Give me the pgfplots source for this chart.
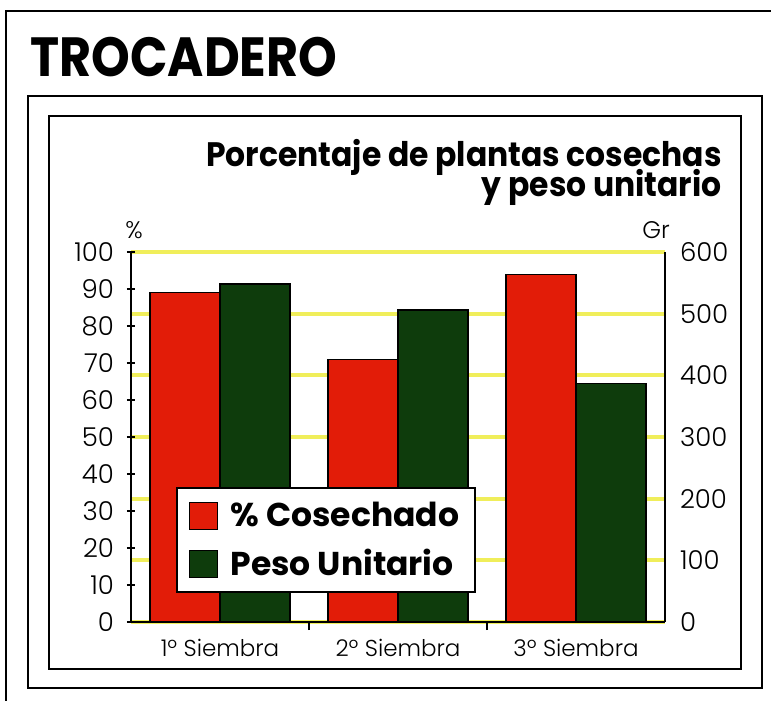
\documentclass[border=0pt]{standalone}
\usepackage{fontspec}
\setmainfont{Poppins}
\newfontfamily\plight{Poppins Light}
\usepackage{pgfplots}
\pgfplotsset{compat=1.18}
\definecolor{cRed}{RGB}{226,28,8}
\definecolor{cGreen}{RGB}{14,60,12}
\definecolor{cYel}{RGB}{240,238,90}
\begin{document}
\begin{tikzpicture}
\useasboundingbox (0,0) rectangle (385.5pt,-350.5pt);
\fill[white] (0,0) rectangle (385.5pt,-350.5pt);
% frames
\draw[line width=1.4pt] (3pt,-350.5pt) -- (3pt,-5.5pt) -- (385.5pt,-5.5pt);
\draw[line width=1.4pt] (14pt,-48pt) rectangle (381pt,-344pt);
\draw[line width=1.4pt] (24.5pt,-58pt) rectangle (370.5pt,-334.5pt);
% titles
\node[anchor=base west, inner sep=0pt, font=\bfseries\fontsize{23}{23}\selectfont] at (15pt,-38.5pt) {\scalebox{1.07}[1.2]{TROCADERO}};
\node[anchor=base east, inner sep=0pt, font=\bfseries\fontsize{15.7}{15.7}\selectfont] at (361pt,-83pt) {\scalebox{1}[1.08]{Porcentaje de plantas cosechas}};
\node[anchor=base east, inner sep=0pt, font=\bfseries\fontsize{15.7}{15.7}\selectfont] at (361pt,-98.5pt) {\scalebox{1}[1.08]{y peso unitario}};
\node[anchor=base, inner sep=0pt, font=\plight\fontsize{12}{12}\selectfont] at (67pt,-119pt) {\%};
\node[anchor=base, inner sep=0pt, font=\plight\fontsize{12}{12}\selectfont] at (328pt,-119pt) {Gr};
% right axis (Gr) with grid and green bars
\begin{axis}[
  at={(65.5pt,-311pt)}, anchor=south west,
  width=267pt, height=185pt, scale only axis,
  xmin=-0.5, xmax=2.5, ymin=0, ymax=600,
  axis x line=none, axis y line*=right,
  axis line style={line width=1pt},
  ytick={0,100,...,600}, major tick length=0pt,
  ymajorgrids, grid style={cYel, line width=2pt},
  /pgf/number format/assume math mode=true,
  tick label style={font=\plight\fontsize{13}{13}\selectfont},
  yticklabel style={xshift=4pt},
  ybar, bar width=35pt, bar shift=17.5pt,
]
\addplot[fill=cGreen, draw=black, line width=0.6pt] coordinates {(0,548) (1,506) (2,387)};
\end{axis}
% left axis (%) with red bars
\begin{axis}[
  at={(65.5pt,-311pt)}, anchor=south west,
  width=267pt, height=185pt, scale only axis,
  xmin=-0.5, xmax=2.5, ymin=0, ymax=100,
  axis x line*=bottom, axis y line*=left,
  axis line style={line width=1pt},
  ytick={0,10,...,100},
  xtick={0.5,1.5}, xticklabels={},
  extra x ticks={0,1,2},
  extra x tick labels={1º Siembra,2º Siembra,3º Siembra},
  extra x tick style={major tick length=0pt},
  tick align=center, major tick length=4pt,
  tick style={line width=1pt, black},
  /pgf/number format/assume math mode=true,
  tick label style={font=\plight\fontsize{13}{13}\selectfont},
  yticklabel style={xshift=-3pt},
  xticklabel style={yshift=-5pt, font=\plight\fontsize{11.5}{11.5}\selectfont},
  ybar, bar width=35pt, bar shift=-17.5pt,
  legend style={at={(0.084,0.366)}, anchor=north west, draw=black, line width=1pt,
    fill=white, font=\bfseries\fontsize{16.5}{19}\selectfont, inner xsep=6pt, inner ysep=5pt,
    row sep=6pt},
  legend cell align=left,
  legend image code/.code={\draw[#1, line width=0.6pt] (0pt,-7pt) rectangle (14pt,6.5pt); \path (18pt,0pt);},
]
\addplot[fill=cRed, draw=black, line width=0.6pt] coordinates {(0,89) (1,71) (2,94)};
\addlegendentry{\% Cosechado}
\addlegendimage{fill=cGreen, draw=black}
\addlegendentry{Peso Unitario}
\end{axis}
\end{tikzpicture}
\end{document}
